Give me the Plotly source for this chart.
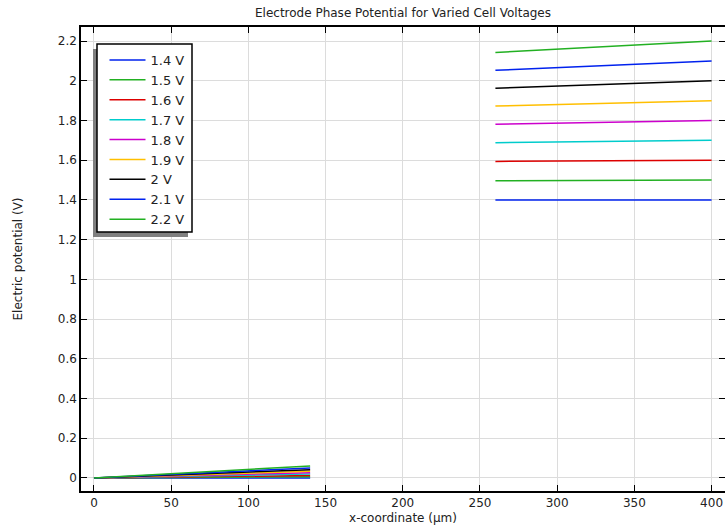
import plotly.graph_objects as go

voltages = ["1.4 V", "1.5 V", "1.6 V", "1.7 V", "1.8 V", "1.9 V", "2 V", "2.1 V", "2.2 V"]
colors = ["#0022ee", "#22b022", "#dd0000", "#00cccc", "#cc00cc", "#ffbf00", "#000000", "#0022ee", "#22b022"]

# left electrode region (x from 0 to 140 µm)
x_left = [0, 140]
left_start = [0.0, 0.0, 0.0, 0.0, 0.0, 0.0, 0.0, 0.0, 0.0]
left_end = [0.0, 0.006, 0.012, 0.019, 0.026, 0.033, 0.041, 0.050, 0.060]

# right electrode region (x from 260 to 400 µm)
x_right = [260, 400]
right_start = [1.400, 1.497, 1.594, 1.688, 1.781, 1.873, 1.963, 2.053, 2.143]
right_end = [1.40, 1.50, 1.60, 1.70, 1.80, 1.90, 2.00, 2.10, 2.20]

x_ticks = [0, 50, 100, 150, 200, 250, 300, 350, 400]
y_ticks = [0, 0.2, 0.4, 0.6, 0.8, 1, 1.2, 1.4, 1.6, 1.8, 2, 2.2]

W, H = 725, 528
ML, MR, MT, MB = 81, 0, 27, 37
pw, ph = W - ML - MR, H - MT - MB


def px(xp):
    return (xp - ML) / pw


def py(yp):
    return (H - MB - yp) / ph


fig = go.Figure()
for i, name in enumerate(voltages):
    fig.add_trace(go.Scatter(
        x=x_left + [None] + x_right,
        y=[left_start[i], left_end[i], None, right_start[i], right_end[i]],
        mode="lines", name=name,
        line=dict(color=colors[i], width=1.5),
        connectgaps=False,
    ))

font = "DejaVu Sans, sans-serif"
axis_common = dict(
    showline=True, linecolor="black", linewidth=1.5, mirror="ticks",
    ticks="inside", ticklen=6, tickcolor="black",
    showgrid=True, gridcolor="#dcdcdc", gridwidth=1, zeroline=False,
    tickfont=dict(family=font, size=12, color="#222"),
    automargin=False,
)

fig.update_layout(
    width=W, height=H,
    margin=dict(l=ML, r=MR, t=MT, b=MB),
    paper_bgcolor="white", plot_bgcolor="white",
    font=dict(family=font, size=12, color="#222"),
    title=dict(text="Electrode Phase Potential for Varied Cell Voltages",
               x=(ML + pw / 2) / W, xanchor="center", y=1 - 13 / H, yanchor="middle",
               font=dict(family=font, size=12, color="#222")),
    xaxis=dict(range=[-8.4, 408.7], tickvals=x_ticks, ticktext=[str(v) for v in x_ticks],
               title=dict(text="x-coordinate (µm)", standoff=4, font=dict(family=font, size=12)),
               **axis_common),
    yaxis=dict(range=[-0.066, 2.271], tickvals=y_ticks, ticktext=[f"{v:g}" for v in y_ticks],
               title=dict(text="Electric potential (V)", standoff=33, font=dict(family=font, size=12)),
               **axis_common),
    legend=dict(x=px(104.5), y=py(45), xanchor="left", yanchor="top",
                bgcolor="rgba(0,0,0,0)", borderwidth=0,
                font=dict(family=font, size=13, color="#222"),
                tracegroupgap=0, itemwidth=36),
    showlegend=True,
    shapes=[
        dict(type="rect", xref="paper", yref="paper",
             x0=px(93), x1=px(188), y0=py(237), y1=py(49),
             fillcolor="#808080", line=dict(width=0), layer="above"),
        dict(type="rect", xref="paper", yref="paper",
             x0=px(97), x1=px(192), y0=py(232), y1=py(44),
             fillcolor="white", line=dict(color="black", width=1.5), layer="above"),
    ],
)

fig.write_html("out.html", config={"displayModeBar": False},
               post_script="document.body.style.margin='0';document.body.style.overflow='hidden';")
